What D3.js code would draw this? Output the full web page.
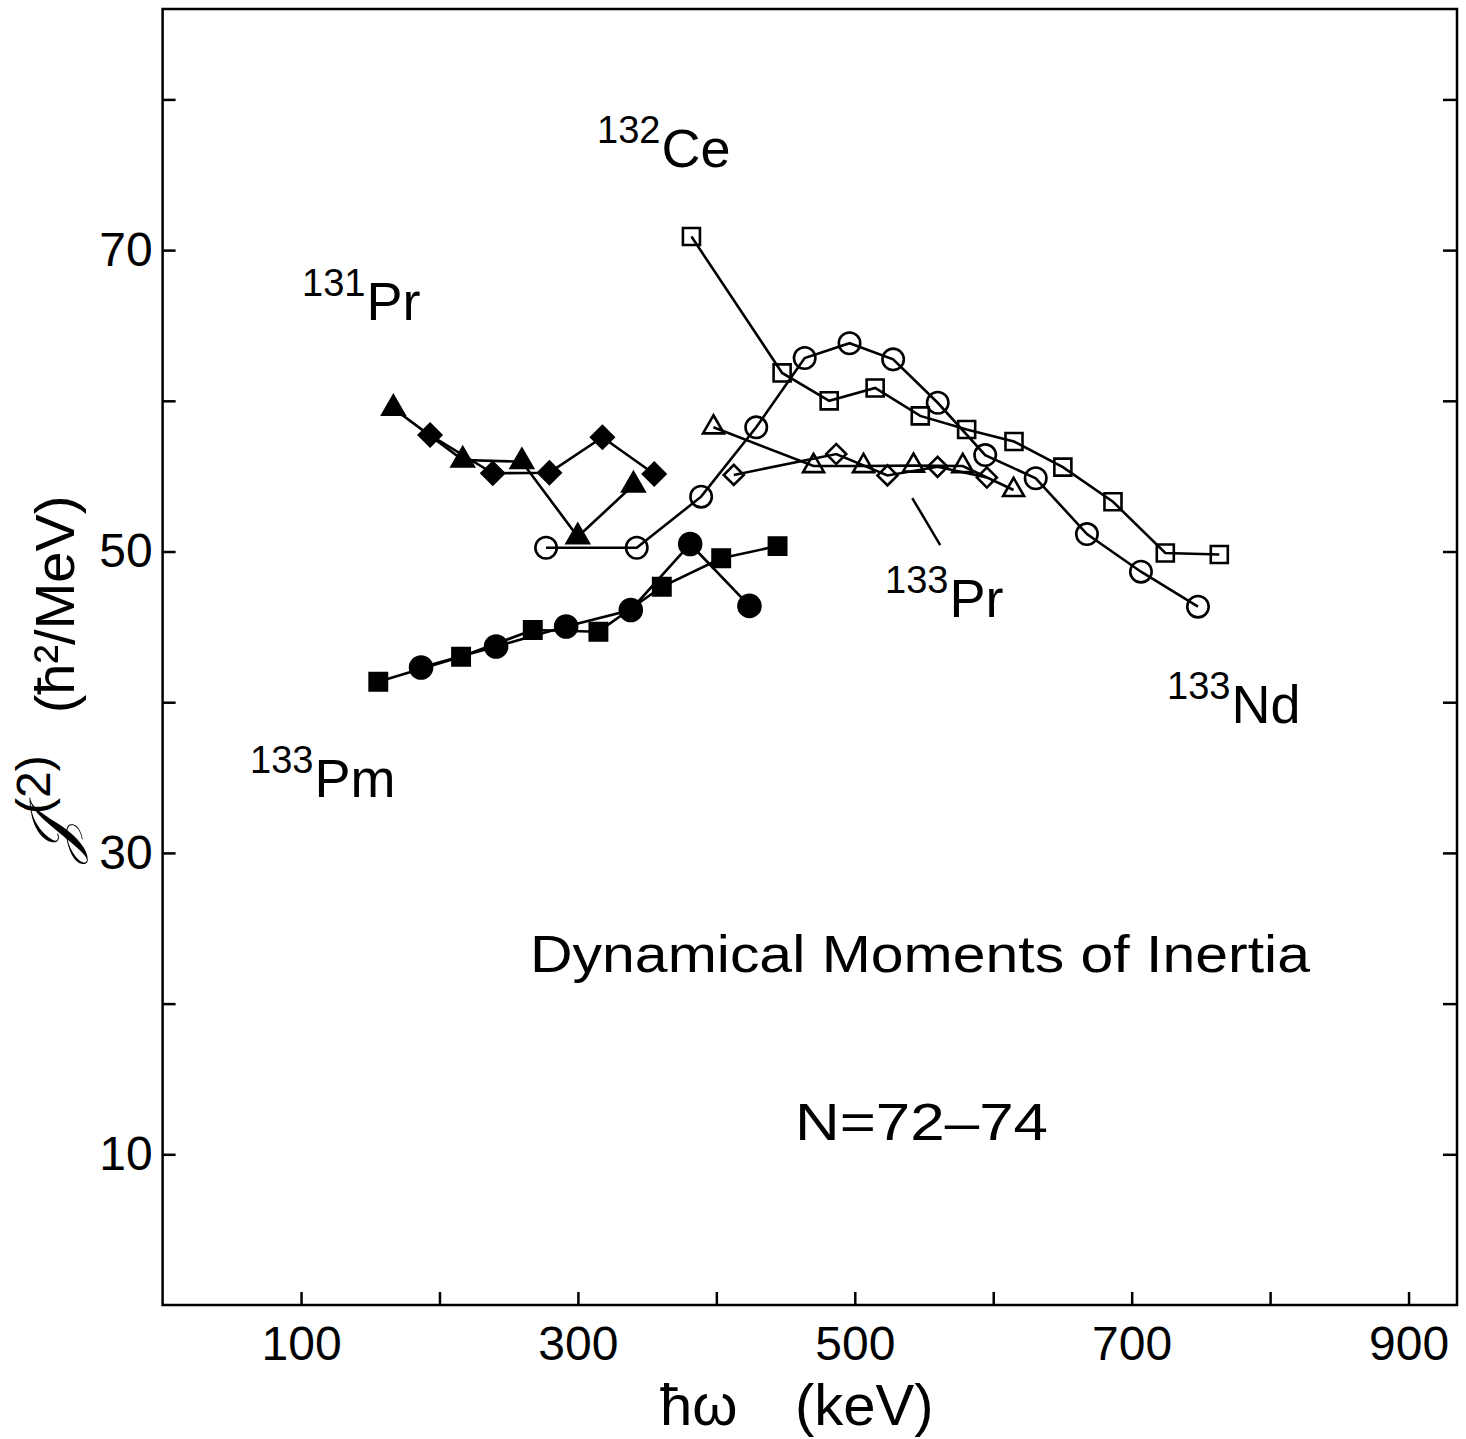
<!DOCTYPE html>
<html>
<head>
<meta charset="utf-8">
<script src="https://cdn.jsdelivr.net/npm/d3@7"></script>
<style>
  body { margin: 0; background: #fff; }
  text { font-family: "Liberation Sans", Arial, sans-serif; fill: #000; }
</style>
</head>
<body>
<svg id="chart" width="1466" height="1439"></svg>
<script>
// hbar*omega (keV), J(2) (hbar^2/MeV)
var ce132 = [[382, 70.9], [447.5, 61.85], [481.5, 60.0], [514.7, 60.85], [547.3, 59.0], [580.8, 58.1],
             [615, 57.3], [650.3, 55.6], [686.5, 53.3], [724.3, 49.9], [763.3, 49.8]];
var nd133 = [[277, 50.25], [342.5, 50.25], [389, 53.64], [428.8, 58.24], [463.8, 62.84], [496.2, 63.82],
             [527.7, 62.75], [559.9, 59.87], [594.2, 56.4], [630.7, 54.86], [667.7, 51.16], [706.7, 48.66], [747.9, 46.34]];
var pr133Tri = [[397.9, 58.24], [470.2, 55.67], [506.3, 55.67], [542.4, 55.7], [578, 55.67], [614.7, 54.08]];
var pr133Dia = [[412.6, 55.08], [486.6, 56.47], [523.6, 55.05], [559.8, 55.62], [595.4, 54.91]];
var pr131Tri = [[166.7, 59.5], [216.8, 56.07], [259.5, 55.96], [299.9, 50.98], [340.1, 54.41]];
var pr131Dia = [[193.2, 57.73], [238.5, 55.19], [279.4, 55.23], [317.7, 57.58], [355.1, 55.14]];
var pm133Sq = [[155.8, 41.36], [215.6, 43.02], [267.4, 44.79], [314.8, 44.68], [360.6, 47.66], [403.5, 49.55], [444.2, 50.36]];
var pm133Circ = [[186.7, 42.3], [240.9, 43.7], [291.5, 45.02], [338.2, 46.12], [381.1, 50.5], [423.9, 46.39]];
var pr133Pointer = [[541.5, 53.55], [561.7, 50.43]];

var xTicks = [100, 200, 300, 400, 500, 600, 700, 800, 900];
var yTicks = [10, 20, 30, 40, 50, 60, 70, 80];
var xLabels = [100, 300, 500, 700, 900];
var yLabels = [10, 30, 50, 70];

var svg = d3.select("#chart");
svg.append("rect").attr("width", 1466).attr("height", 1439).attr("fill", "#fff");

var x = d3.scaleLinear().domain([0, 935]).range([162.6, 1457]);
var y = d3.scaleLinear().domain([0, 86]).range([1305, 9]);

// frame
svg.append("rect")
    .attr("x", x(0)).attr("y", y(86))
    .attr("width", x(935) - x(0)).attr("height", y(0) - y(86))
    .attr("fill", "none").attr("stroke", "#000").attr("stroke-width", 2.5);

function styleAxis(g, size) {
    g.select(".domain").remove();
    g.selectAll(".tick line").attr("stroke", "#000").attr("stroke-width", 2.5);
    g.selectAll(".tick text").attr("font-size", size).attr("font-family", "Liberation Sans, Arial, sans-serif").attr("fill", "#000");
}

svg.append("g")
    .attr("transform", "translate(0," + y(0) + ")")
    .call(d3.axisBottom(x).tickValues(xTicks).tickSize(-13).tickPadding(21)
        .tickFormat(function(d) { return xLabels.indexOf(d) >= 0 ? d : ""; }))
    .call(styleAxis, 48);

svg.append("g")
    .attr("transform", "translate(" + x(0) + ",0)")
    .call(d3.axisLeft(y).tickValues(yTicks).tickSize(-13).tickPadding(10)
        .tickFormat(function(d) { return yLabels.indexOf(d) >= 0 ? d : ""; }))
    .call(styleAxis, 48);

svg.append("g")
    .attr("transform", "translate(" + x(935) + ",0)")
    .call(d3.axisRight(y).tickValues(yTicks).tickSize(-14).tickFormat(""))
    .call(styleAxis, 48);

// series
var series = [
    {data: ce132, type: d3.symbolSquare, size: 290, rot: 0, filled: false},
    {data: nd133, type: d3.symbolCircle, size: 360, rot: 0, filled: false},
    {data: pr133Tri, type: d3.symbolTriangle, size: 190, rot: 0, filled: false},
    {data: pr133Dia, type: d3.symbolSquare, size: 200, rot: 45, filled: false},
    {data: pr131Tri, type: d3.symbolTriangle, size: 210, rot: 0, filled: true},
    {data: pr131Dia, type: d3.symbolSquare, size: 250, rot: 45, filled: true},
    {data: pm133Sq, type: d3.symbolSquare, size: 300, rot: 0, filled: true},
    {data: pm133Circ, type: d3.symbolCircle, size: 380, rot: 0, filled: true}
];

var line = d3.line()
    .x(function(d) { return x(d[0]); })
    .y(function(d) { return y(d[1]); });

series.forEach(function(s) {
    svg.append("path")
        .attr("d", line(s.data))
        .attr("fill", "none")
        .attr("stroke", "#000")
        .attr("stroke-width", 2.6);
});

series.forEach(function(s) {
    svg.append("g").selectAll("path")
        .data(s.data)
        .enter()
        .append("path")
        .attr("d", d3.symbol().type(s.type).size(s.size))
        .attr("transform", function(d) {
            return "translate(" + x(d[0]) + "," + y(d[1]) + ") rotate(" + s.rot + ")";
        })
        .attr("fill", s.filled ? "#000" : "none")
        .attr("stroke", "#000")
        .attr("stroke-width", 2.6);
});

// pointer to 133Pr label
svg.append("path")
    .attr("d", line(pr133Pointer))
    .attr("stroke", "#000")
    .attr("stroke-width", 2.5);

// isotope labels
var isoLabels = [
    {mass: "132", el: "Ce", x: 597, y: 167},
    {mass: "131", el: "Pr", x: 302, y: 320},
    {mass: "133", el: "Pm", x: 250, y: 797},
    {mass: "133", el: "Pr", x: 885, y: 617},
    {mass: "133", el: "Nd", x: 1167, y: 723}
];
isoLabels.forEach(function(l) {
    var t = svg.append("text").attr("x", l.x).attr("y", l.y);
    t.append("tspan").attr("font-size", 38).attr("dy", -24).text(l.mass);
    t.append("tspan").attr("font-size", 54).attr("dy", 24).attr("dx", 1).text(l.el);
});

svg.append("text")
    .attr("x", 530).attr("y", 972)
    .attr("font-size", 52)
    .attr("textLength", 780).attr("lengthAdjust", "spacingAndGlyphs")
    .text("Dynamical Moments of Inertia");

svg.append("text")
    .attr("x", 795).attr("y", 1140)
    .attr("font-size", 52)
    .attr("textLength", 253).attr("lengthAdjust", "spacingAndGlyphs")
    .text("N=72\u201374");

// x title
svg.append("text").attr("x", 660).attr("y", 1425).attr("font-size", 58).text("\u0127\u03c9");
svg.append("text").attr("x", 795).attr("y", 1425).attr("font-size", 58).text("(keV)");

// y title
var yt = svg.append("text")
    .attr("transform", "translate(74,862) rotate(-90)");
yt.append("tspan").attr("font-size", 64).attr("font-family", "DejaVu Serif, serif").attr("font-style", "italic").text("\ud835\udca5");
yt.append("tspan").attr("font-size", 48).attr("dy", -24).attr("dx", 4).text("(2)");
yt.append("tspan").attr("font-size", 56).attr("dy", 24).attr("dx", 42).text("(\u0127\u00b2/MeV)");
</script>
</body>
</html>
